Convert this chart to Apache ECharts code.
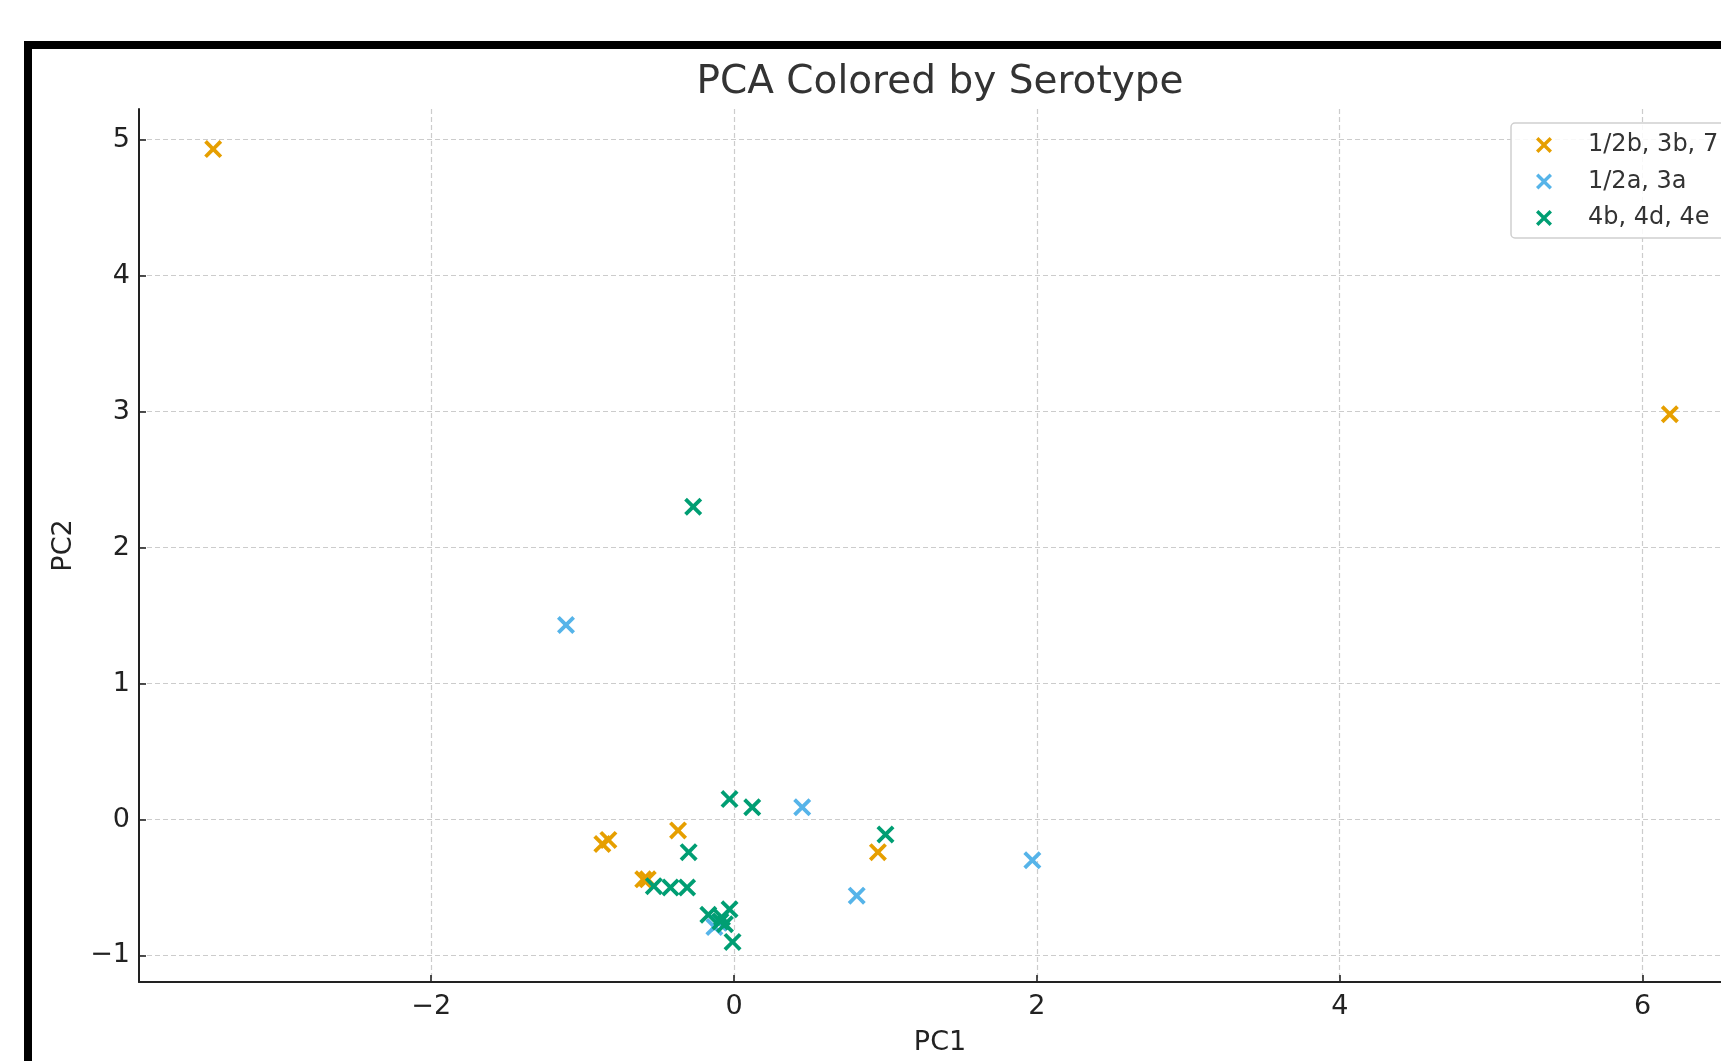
<!DOCTYPE html>
<html>
<head>
<meta charset="utf-8">
<title>PCA Colored by Serotype</title>
<script src="https://cdn.jsdelivr.net/npm/echarts@6/dist/echarts.min.js"></script>
<style>
  html, body { margin: 0; padding: 0; background: #fff; overflow: hidden; width: 1721px; height: 1061px; }
  #chart { position: absolute; left: 0; top: 0; width: 1800px; height: 1061px; }
  .frame { position: absolute; left: 24px; top: 41px; width: 1800px; height: 1100px;
           border-left: 8px solid #000; border-top: 8px solid #000; pointer-events: none; }
</style>
</head>
<body>
<div id="chart"></div>
<div class="frame"></div>
<script>
// serotype groups, PC1 / PC2
const groupNames = ['1/2b, 3b, 7', '1/2a, 3a', '4b, 4d, 4e']
const groupColors = ['#E69F00', '#56B4E9', '#009E73']

const orangeX = [-3.44, 6.18, -0.87, -0.83, -0.37, -0.60, -0.57, 0.95]
const orangeY = [4.93, 2.98, -0.18, -0.15, -0.08, -0.44, -0.44, -0.24]

const blueX = [-1.11, 0.45, 0.81, 1.97, -0.13, -0.10]
const blueY = [1.43, 0.09, -0.56, -0.30, -0.79, -0.76]

const greenX = [-0.27, -0.03, 0.12, -0.30, 1.00, -0.53, -0.42, -0.31, -0.17, -0.03, -0.09, -0.06, -0.08, -0.01]
const greenY = [2.30, 0.15, 0.09, -0.24, -0.11, -0.49, -0.50, -0.50, -0.70, -0.66, -0.75, -0.77, -0.72, -0.90]

const xTicks = [-2, 0, 2, 4, 6]
const yTicks = [-1, 0, 1, 2, 3, 4, 5]

// 'x' marker as a filled polygon
const crossPath = 'path://M15,0L50,35L85,0L100,15L65,50L100,85L85,100L50,65L15,100L0,85L35,50L0,15Z'
const font = 'DejaVu Sans'

function pairs (xs, ys) {
  return xs.map((x, i) => [x, ys[i]])
}
function fmt (v) {
  return v < 0 ? '\u2212' + Math.abs(v) : String(v)
}

const groups = [pairs(orangeX, orangeY), pairs(blueX, blueY), pairs(greenX, greenY)]

const myChart = echarts.init(document.getElementById('chart'))

let option = {
  animation: false,
  backgroundColor: 'transparent',
  title: {
    text: 'PCA Colored by Serotype',
    left: 935,
    top: 58,
    textAlign: 'center',
    textStyle: { fontFamily: font, fontSize: 39, fontWeight: 'normal', color: '#333' }
  },
  legend: {
    orient: 'vertical',
    left: 1511,
    top: 123,
    padding: [10, 20, 8, 25],
    itemGap: 12.5,
    itemWidth: 16,
    itemHeight: 16,
    backgroundColor: 'rgba(255,255,255,0.85)',
    borderColor: '#cfcfcf',
    borderWidth: 1.5,
    borderRadius: 4,
    textStyle: { fontFamily: font, fontSize: 24, color: '#333', padding: [0, 0, 0, 31] },
    data: groupNames.map((n) => ({ name: n, icon: crossPath }))
  },
  grid: {
    left: 139,
    top: 109,
    width: 1602,
    height: 876,
    containLabel: false
  },
  xAxis: {
    type: 'value',
    min: -3.93,
    max: 6.65,
    name: 'PC1',
    nameLocation: 'middle',
    nameGap: 47,
    nameTextStyle: { fontFamily: font, fontSize: 27, color: '#222' },
    axisLine: { show: true, onZero: false, lineStyle: { color: '#222', width: 2 } },
    axisTick: { show: true, inside: true, length: 7, customValues: xTicks, lineStyle: { color: '#222', width: 1.6 } },
    axisLabel: { customValues: xTicks, formatter: fmt, margin: 11, fontFamily: font, fontSize: 27, color: '#222' },
    splitLine: { show: true, lineStyle: { color: '#cccccc', width: 1.2, type: [5, 3] } }
  },
  yAxis: {
    type: 'value',
    min: -1.195,
    max: 5.225,
    name: 'PC2',
    nameLocation: 'middle',
    nameGap: 62,
    nameTextStyle: { fontFamily: font, fontSize: 27, color: '#222' },
    axisLine: { show: true, onZero: false, lineStyle: { color: '#222', width: 2 } },
    axisTick: { show: true, inside: true, length: 7, customValues: yTicks, lineStyle: { color: '#222', width: 1.6 } },
    axisLabel: { customValues: yTicks, formatter: fmt, margin: 9, fontFamily: font, fontSize: 27, color: '#222' },
    splitLine: { show: true, lineStyle: { color: '#cccccc', width: 1.2, type: [5, 3] } }
  },
  series: groups.map((d, i) => ({
    name: groupNames[i],
    type: 'scatter',
    symbol: crossPath,
    symbolSize: 18,
    itemStyle: { color: groupColors[i], opacity: 1 },
    data: d
  }))
}
myChart.setOption(option)
</script>
</body>
</html>
